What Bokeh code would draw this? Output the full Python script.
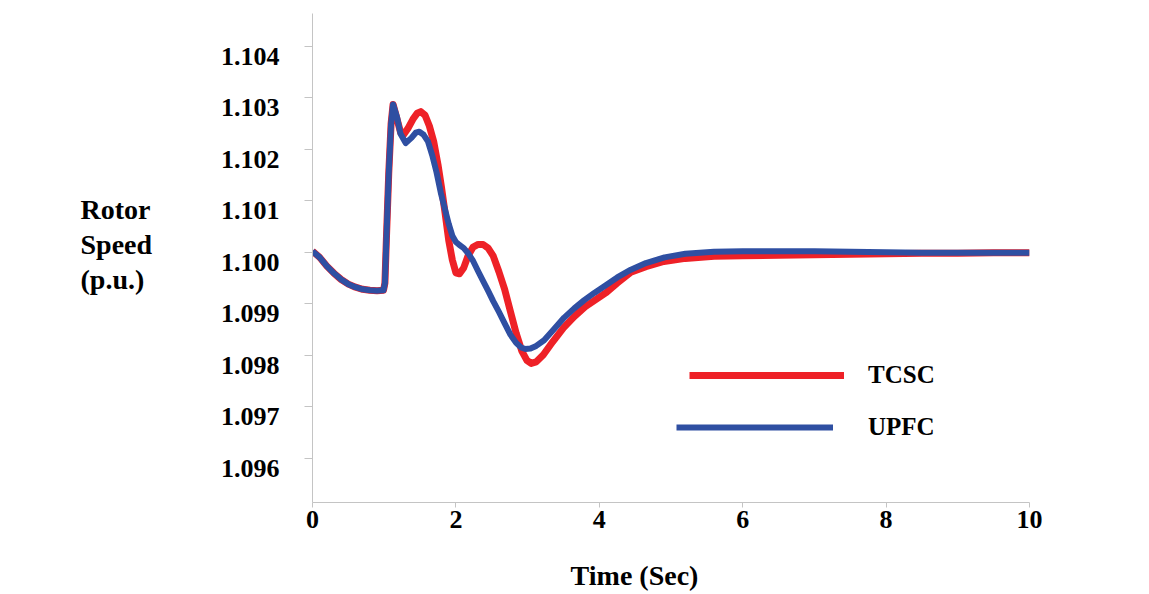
from bokeh.plotting import figure
from bokeh.models import Range1d, FixedTicker, Legend, LegendItem, Label
from bokeh.embed import file_html
from bokeh.resources import INLINE

# ---------------- data ----------------
time_tcsc = [0.0, 0.1, 0.2, 0.3, 0.4, 0.5, 0.6, 0.7, 0.8, 0.9,
             0.99, 1.01, 1.03, 1.063, 1.096, 1.124,
             1.18, 1.23, 1.27, 1.33, 1.40, 1.46, 1.51, 1.57, 1.63, 1.69,
             1.75, 1.80, 1.85, 1.90, 1.95, 2.00, 2.05, 2.11, 2.17, 2.24,
             2.31, 2.38, 2.45, 2.52, 2.60, 2.68, 2.76, 2.84, 2.92, 2.99,
             3.05, 3.12, 3.22, 3.35, 3.50, 3.65, 3.80, 3.95, 4.10, 4.25,
             4.44, 4.65, 4.90, 5.20, 5.60, 6.00, 6.50, 7.00, 7.50, 8.00,
             8.50, 9.00, 9.50, 10.0]
speed_tcsc = [1.10002, 1.09990, 1.09973, 1.09959, 1.09947, 1.09938, 1.09932, 1.09928, 1.09926, 1.09925,
              1.09926, 1.09940, 1.10023, 1.10152, 1.10249, 1.10287,
              1.10258, 1.10232, 1.10228, 1.10240, 1.10258, 1.10270, 1.10273, 1.10266, 1.10245, 1.10215,
              1.10170, 1.10125, 1.10075, 1.10023, 1.09985, 1.09960, 1.09958, 1.09970, 1.09993, 1.10010,
              1.10015, 1.10015, 1.10008, 1.09993, 1.09962, 1.09928, 1.09885, 1.09843, 1.09808, 1.09790,
              1.09784, 1.09787, 1.09801, 1.09826, 1.09853, 1.09875, 1.09894, 1.09908, 1.09922, 1.09940,
              1.09961, 1.09972, 1.09982, 1.09988, 1.09992, 1.09993, 1.09994, 1.09995, 1.09996, 1.09997,
              1.09998, 1.09998, 1.09999, 1.09999]

time_upfc = [0.0, 0.1, 0.2, 0.3, 0.4, 0.5, 0.6, 0.7, 0.8, 0.9,
             0.99, 1.01, 1.03, 1.063, 1.096, 1.124,
             1.18, 1.227, 1.30, 1.38, 1.44, 1.49, 1.55,
             1.61, 1.67, 1.73, 1.79, 1.85, 1.90, 1.95, 2.00, 2.05, 2.11,
             2.17, 2.24, 2.31, 2.38, 2.45, 2.52, 2.60, 2.68, 2.76, 2.84,
             2.91, 2.97, 3.04, 3.12, 3.23, 3.37, 3.51, 3.65, 3.79, 3.93,
             4.07, 4.25, 4.44, 4.65, 4.91, 5.20, 5.60, 6.00, 6.50, 7.00,
             7.50, 8.00, 8.50, 9.00, 9.50, 10.0]
speed_upfc = [1.10002, 1.09990, 1.09973, 1.09959, 1.09947, 1.09938, 1.09932, 1.09928, 1.09926, 1.09925,
              1.09926, 1.09940, 1.10023, 1.10152, 1.10249, 1.10287,
              1.10262, 1.10230, 1.10212, 1.10222, 1.10232, 1.10234, 1.10228,
              1.10215, 1.10188, 1.10155, 1.10115, 1.10082, 1.10055, 1.10032, 1.10020, 1.10014, 1.10008,
              1.09998, 1.09983, 1.09963, 1.09944, 1.09925, 1.09905, 1.09884, 1.09862, 1.09840, 1.09824,
              1.09815, 1.09812, 1.09813, 1.09818, 1.09829, 1.09851, 1.09873, 1.09891, 1.09907, 1.09921,
              1.09934, 1.09951, 1.09966, 1.09979, 1.09990, 1.09997, 1.10001, 1.10002, 1.10002, 1.10002,
              1.10001, 1.10000, 1.09999, 1.09999, 1.09999, 1.09999]

x_ticks = [0, 2, 4, 6, 8, 10]
y_ticks = [1.096, 1.097, 1.098, 1.099, 1.100, 1.101, 1.102, 1.103, 1.104]
y_tick_labels = ["1.096", "1.097", "1.098", "1.099", "1.100", "1.101", "1.102", "1.103", "1.104"]
series_names = ["TCSC", "UPFC"]
x_title = "Time (Sec)"
y_title = "Rotor\nSpeed\n(p.u.)"

# ---------------- styling ----------------
FONT = "Liberation Serif"
RED = "#EE2127"
BLUE = "#2F4FA2"
AXIS_GREY = "#c4c4c4"

Y0, Y1 = 1.09514, 1.104635
FRAME_H = 489
# labels in the reference sit about 10 px below their tick marks
label_shift = 10 * (Y1 - Y0) / FRAME_H

p = figure(width=1141, height=594, output_backend="svg", toolbar_location=None,
           x_range=Range1d(0, 10), y_range=Range1d(Y0, Y1),
           min_border_left=312, min_border_right=112, min_border_top=13, min_border_bottom=92)
p.outline_line_color = None
p.xgrid.visible = False
p.ygrid.visible = False
p.background_fill_color = "white"
p.border_fill_color = "white"

r_tcsc = p.line(time_tcsc, speed_tcsc, line_color=RED, line_width=7, line_join="round")
r_upfc = p.line(time_upfc, speed_upfc, line_color=BLUE, line_width=6, line_join="round")

# x axis
xa = p.xaxis[0]
xa.ticker = FixedTicker(ticks=x_ticks)
xa.axis_line_color = AXIS_GREY
xa.major_tick_line_color = AXIS_GREY
xa.major_tick_out = 5
xa.major_tick_in = 0
xa.minor_tick_line_color = None
xa.major_label_text_font = FONT
xa.major_label_text_font_style = "bold"
xa.major_label_text_font_size = "26px"
xa.major_label_text_color = "black"
xa.major_label_standoff = 3

# y axis: tick marks at the values (minor), labels slightly below (major)
ya = p.yaxis[0]
ya.ticker = FixedTicker(ticks=[t - label_shift for t in y_ticks], minor_ticks=y_ticks)
ya.major_label_overrides = {t - label_shift: lab for t, lab in zip(y_ticks, y_tick_labels)}
ya.axis_line_color = AXIS_GREY
ya.major_tick_line_color = None
ya.major_tick_out = 0
ya.major_tick_in = 0
ya.minor_tick_line_color = AXIS_GREY
ya.minor_tick_out = 8
ya.minor_tick_in = 0
ya.major_label_text_font = FONT
ya.major_label_text_font_style = "bold"
ya.major_label_text_font_size = "26px"
ya.major_label_text_color = "black"
ya.major_label_standoff = 25

# axis titles as labels placed in the side panels
p.add_layout(Label(x=322, y=-14, x_units="screen", y_units="screen", text=x_title,
                   text_font=FONT, text_font_style="bold", text_font_size="28px",
                   text_align="center", text_baseline="alphabetic", text_color="black"), "below")
p.add_layout(Label(x=-65, y=309, x_units="screen", y_units="screen", text=y_title,
                   text_font=FONT, text_font_style="bold", text_font_size="28px",
                   text_align="left", text_baseline="top", text_line_height=1.13,
                   text_color="black"), "left")

# legends (one per entry, as the reference staggers them)
def make_legend(name, renderer, loc, gw, standoff):
    leg = Legend(items=[LegendItem(label=name, renderers=[renderer])], location=loc,
                 glyph_width=gw, glyph_height=30, label_height=30, label_standoff=standoff,
                 padding=0, margin=0, border_line_color=None, background_fill_alpha=0,
                 label_text_font=FONT, label_text_font_style="bold", label_text_font_size="25px",
                 label_text_color="black")
    p.add_layout(leg, "center")

make_legend(series_names[0], r_tcsc, (377, 112), 155, 24)
make_legend(series_names[1], r_upfc, (364, 60), 157, 35)

open("out.html", "w").write(file_html(p, INLINE))
